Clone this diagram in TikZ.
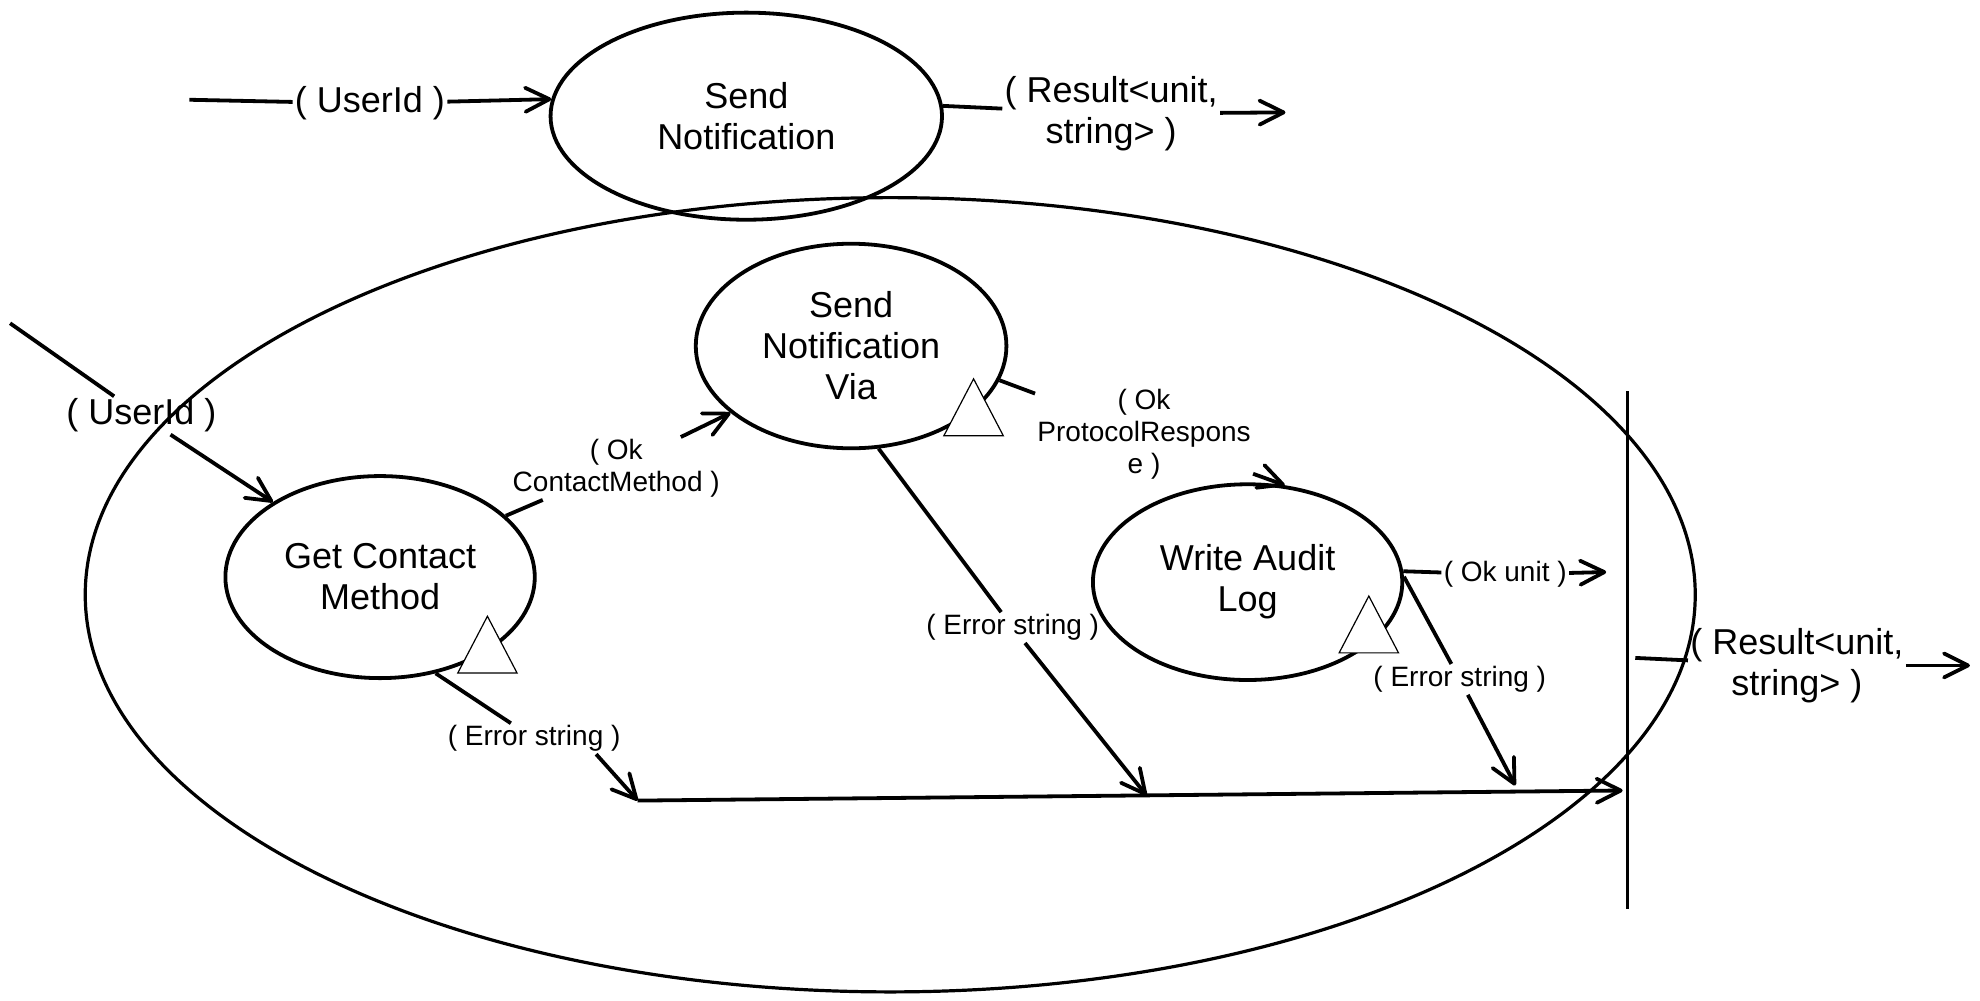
\documentclass[tikz,border=0pt]{standalone}
\usepackage{fontspec}
\setmainfont{Liberation Sans}
\usetikzlibrary{shapes.geometric,arrows.meta}

\newcommand{\dpx}{0.6314pt}

\begin{document}
\begin{tikzpicture}[x=\dpx, y=-\dpx,
    dims/.style 2 args={minimum width={#1*\dpx}, minimum height={#2*\dpx}},
    proc/.style={draw, ellipse, line width=1.9pt, inner sep=0pt, align=center, font=\fontsize{18}{20.5}\selectfont},
    biglbl/.style={inner sep=1pt, align=center, font=\fontsize{18}{20.5}\selectfont},
    lbl/.style={inner sep=1pt, align=center, font=\fontsize{14}{16}\selectfont},
    wire/.style={line width=1.9pt},
    flow/.style={wire, -{Straight Barb[length=12pt,width=12pt,round]}},
    errtri/.style={draw, fill=white, line width=0.6pt}]

    \useasboundingbox (0,0) rectangle (1568,792.7);

    % Processes
    \node[proc, line width=1.6pt, dims={1275}{629}] (wrap) at (705,471) {};
    \node[proc, dims={310}{164}] (sn) at (591,92) {Send\\Notification};
    \node[proc, dims={245}{160}] (gcm) at (301,457) {Get Contact\\Method};
    \node[proc, dims={246}{162}] (snv) at (674,274) {Send\\Notification\\Via};
    \node[proc, dims={245}{155}] (wal) at (988,461) {Write Audit\\Log};

    % Error markers
    \foreach \tx/\ty in {386/488, 771/300, 1084/472}
        \draw[errtri] (\tx,\ty) -- ++(-23.5,45) -- ++(47,0) -- cycle;

    % Result bar
    \coordinate (barTop) at (1289,310);
    \coordinate (barBot) at (1289,720);
    \draw[wire, line width=1.6pt] (barTop) -- (barBot);

    % Labels
    \node[biglbl] (inTop) at (293,82) {( UserId )};
    \node[biglbl] (outTop) at (880,90) {( Result<unit,\\string> )};
    \node[biglbl] (inMain) at (112,329) {( UserId )};
    \node[lbl] (okCm) at (488,371) {( Ok\\ContactMethod )};
    \node[lbl] (okPr) at (906,344) {( Ok\\ProtocolRespons\\e )};
    \node[lbl] (errCm) at (423,585) {( Error string )};
    \node[lbl] (errSnv) at (802,497) {( Error string )};
    \node[lbl] (okWal) at (1192,455) {( Ok unit )};
    \node[lbl] (errWal) at (1156,538) {( Error string )};
    \node[biglbl] (outMain) at (1423,527) {( Result<unit,\\string> )};

    % Free ends and joins
    \coordinate (inTopStart) at (150,79);
    \coordinate (outTopEnd) at (1018,89);
    \coordinate (inMainStart) at (8,256);
    \coordinate (joinL) at (505,634);
    \coordinate (joinR) at (1285,626);
    \coordinate (joinSnv) at (908,630);
    \coordinate (joinWal) at (1200,622);
    \coordinate (okWalEnd) at (1272,453);
    \coordinate (outMainStart) at (1295,521);
    \coordinate (outMainEnd) at (1560,527);

    % Top level
    \draw[wire] (inTopStart) -- (inTop);
    \draw[flow] (inTop) -- (sn.175);
    \draw[wire] (sn.3) -- (outTop);
    \draw[flow] (outTop) -- (outTopEnd);

    % Ok path
    \draw[wire] (inMainStart) -- (inMain);
    \draw[flow] (inMain) -- (gcm.145);
    \draw[wire] (gcm.26) -- (okCm);
    \draw[flow] (okCm) -- (snv.209);
    \draw[wire] (snv.-13) -- (okPr);
    \draw[flow] (okPr) -- (wal.69);
    \draw[wire] (wal.4) -- (okWal);
    \draw[flow] (okWal) -- (okWalEnd);

    % Error path
    \draw[wire] (gcm.-60) -- (errCm);
    \draw[flow] (errCm.-14) -- (joinL);
    \draw[wire] (snv.-75) -- (errSnv);
    \draw[flow] (errSnv) -- (joinSnv);
    \draw[wire] (wal.2) -- (errWal);
    \draw[flow] (errWal) -- (joinWal);
    \draw[flow] (joinL) -- (joinR);

    % Result out
    \draw[wire] (outMainStart) -- (outMain);
    \draw[flow] (outMain) -- (outMainEnd);

\end{tikzpicture}
\end{document}
